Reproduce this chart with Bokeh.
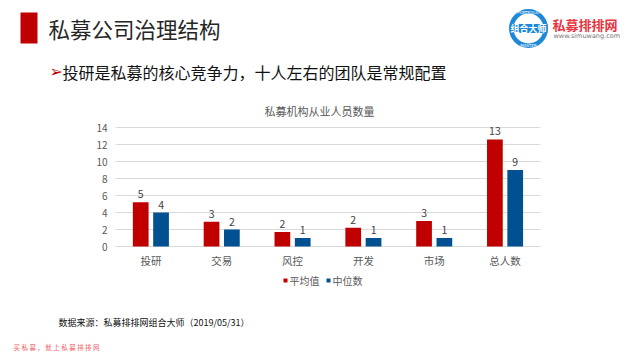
from bokeh.plotting import figure
from bokeh.models import Range1d, FactorRange, ColumnDataSource
from bokeh.transform import dodge
from bokeh.core.properties import value
from bokeh.embed import file_html
from bokeh.resources import INLINE

categories = ["投研", "交易", "风控", "开发", "市场", "总人数"]
mean_values = [5.2, 2.9, 1.7, 2.2, 3.0, 12.6]
median_values = [4.0, 2.0, 1.0, 1.0, 1.0, 9.0]
y_ticks = [0, 2, 4, 6, 8, 10, 12, 14]
series_names = ["平均值", "中位数"]

CJK = "Noto Sans CJK SC"
RED = "#C00000"
BLUE = "#005092"
GRAY = "#595959"

# page layout (pixels)
W, H = 632, 352
PL, PR, PT, PB = 115, 540, 127, 246          # chart plot area
YMAX = 14
cat_px = (PR - PL) / len(categories)
pad = (W / cat_px - len(categories)) / 2
shift = (PL - pad * cat_px) / cat_px
px_per_unit = (PB - PT) / YMAX


def sx(X):
    """page pixel -> synthetic x coordinate of the categorical range"""
    return X / cat_px - pad


p = figure(width=W, height=H,
           x_range=FactorRange(factors=categories, range_padding=pad,
                               range_padding_units="absolute"),
           y_range=Range1d(-(H - PB) / px_per_unit, YMAX + PT / px_per_unit),
           output_backend="svg", toolbar_location=None,
           x_axis_location=None, y_axis_location=None, min_border=0)
p.extra_y_ranges = {"px": Range1d(H, 0)}
p.grid.grid_line_color = None
p.outline_line_color = None


def txt(x, y, text, size, color, align="left", font=CJK, style="normal"):
    p.text(x=[sx(x)], y=[y], text=[text], text_font_size=size, text_color=color,
           text_align=align, text_baseline="middle", text_font=value(font),
           text_font_style=style, y_range_name="px")


def rect(l, r, t, b, color):
    p.quad(left=[sx(l)], right=[sx(r)], top=[t], bottom=[b], fill_color=color,
           line_color=None, y_range_name="px")


# ---------- header ----------
rect(20, 37, 12, 43, RED)
txt(48, 28, "私募公司治理结构", "21.5px", "#262626")
txt(49, 71, "➢", "16px", RED, font="DejaVu Sans")
txt(62, 71, "投研是私募的核心竞争力，十人左右的团队是常规配置", "16px", "#111111")
# logo
p.annulus(x=[sx(528)], y=[28], inner_radius=15 / cat_px, outer_radius=19.5 / cat_px,
          fill_color="#1E88D8", line_color=None, y_range_name="px")
rect(510, 547, 23.5, 32.5, "#1E88D8")
txt(528, 28, "组合大师", "9px", "white", align="center", style="bold")
txt(528, 11.5, "PORTFOLIO", "4px", "white", align="center", font="DejaVu Sans")
txt(528, 44.5, "MASTER", "4px", "white", align="center", font="DejaVu Sans")
txt(552, 24, "私募排排网", "13px", "#E8353F", style="bold")
txt(553, 35, "www.simuwang.com", "6.5px", "#777777", font="DejaVu Sans")

# ---------- chart ----------
txt(319, 110, "私募机构从业人员数量", "11px", GRAY, align="center")

# horizontal grid lines
p.segment(x0=[sx(PL)] * len(y_ticks), x1=[sx(PR)] * len(y_ticks), y0=y_ticks, y1=y_ticks,
          line_color="#D9D9D9", line_width=1)
# y tick labels
p.text(x=[sx(PL - 8)] * len(y_ticks), y=y_ticks, text=[str(t) for t in y_ticks],
       text_align="right", text_baseline="middle", text_font_size="10px",
       text_color=GRAY, text_font=value(CJK))

src = ColumnDataSource(dict(
    cat=categories, mean=mean_values, median=median_values,
    mean_lbl=[f"{v:.0f}" for v in mean_values],
    median_lbl=[f"{v:.0f}" for v in median_values],
    lab_y=[260] * len(categories),
))

for key, lbl, off, col in (("mean", "mean_lbl", -0.144, RED), ("median", "median_lbl", 0.143, BLUE)):
    xs = dodge("cat", off + shift, range=p.x_range)
    p.vbar(x=xs, top=key, bottom=0, width=0.222, source=src, fill_color=col, line_color=None)
    p.text(x=xs, y=key, text=lbl, source=src,
           text_align="center", text_baseline="bottom", y_offset=-4,
           text_font_size="10.5px", text_color="#404040", text_font=value(CJK))

# category labels
p.text(x=dodge("cat", shift, range=p.x_range), y="lab_y", text="cat", source=src,
       text_align="center", text_baseline="middle", text_font_size="10.5px",
       text_color=GRAY, text_font=value(CJK), y_range_name="px")

# ---------- legend ----------
rect(283, 287, 278, 282, RED)
rect(326, 330, 278, 282, BLUE)
txt(289, 280, series_names[0], "10px", GRAY)
txt(332, 280, series_names[1], "10px", GRAY)

# ---------- footer ----------
txt(58, 322, "数据来源：私募排排网组合大师（2019/05/31）", "9px", "#111111")
txt(13, 346.5, "买 私 募 ， 就 上 私 募 排 排 网", "6.5px", "#F0606A")

open("out.html", "w").write(file_html(p, INLINE))
